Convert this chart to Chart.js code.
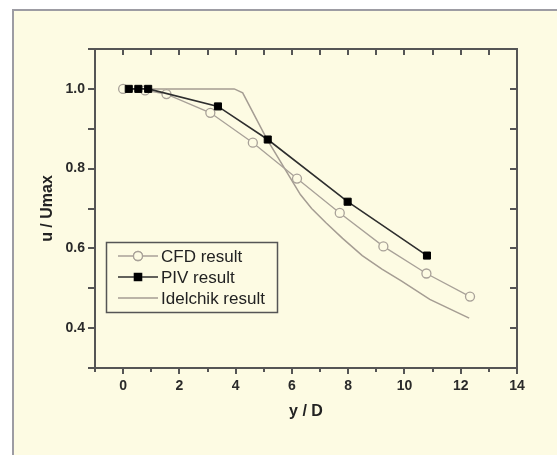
<!DOCTYPE html>
<html>
<head>
<meta charset="utf-8">
<script src="https://cdn.jsdelivr.net/npm/chart.js@4.4.0/dist/chart.umd.min.js"></script>
<style>
    html, body { margin: 0; padding: 0; background: #ffffff; }
    #wrap { width: 557px; height: 455px; }
</style>
</head>
<body>
<div id="wrap"><canvas id="lineChart" width="557" height="455"></canvas></div>
<script>
// data
const seriesNames = ['CFD result', 'PIV result', 'Idelchik result'];

const cfdX = [0, 0.78, 1.54, 3.1, 4.61, 6.18, 7.7, 9.25, 10.78, 12.33];
const cfdY = [1.0, 0.996, 0.987, 0.94, 0.865, 0.775, 0.689, 0.605, 0.537, 0.479];

const pivX = [0.2, 0.54, 0.89, 3.37, 5.14, 7.98, 10.8];
const pivY = [1.0, 1.0, 1.0, 0.956, 0.873, 0.717, 0.582];

const idelX = [0, 3.95, 4.25, 5.1, 6.0, 6.3, 6.7, 7.2, 7.8, 8.5, 9.2, 9.9, 10.9, 12.3];
const idelY = [1.0, 1.0, 0.99, 0.875, 0.77, 0.735, 0.7, 0.665, 0.625, 0.582, 0.548, 0.518, 0.472, 0.425];

const xTicks = [0, 2, 4, 6, 8, 10, 12, 14];
const yTicks = [0.4, 0.6, 0.8, 1.0];

const xMin = -1, xMax = 14, yMin = 0.3, yMax = 1.1;

const bgCream = '#fdfbe3';
const axisColor = '#555555';
const cfdColor = '#a8a198';
const idelColor = '#a59d93';
const pivColor = '#2e2e2e';
const fontFamily = "'Liberation Sans', Arial, sans-serif";

function toPoints(xs, ys) {
    return xs.map((x, i) => ({ x: x, y: ys[i] }));
}

// cream panel with grey frame behind everything
const panelPlugin = {
    id: 'panel',
    beforeDraw(chart) {
        const ctx = chart.ctx;
        ctx.save();
        ctx.fillStyle = '#ffffff';
        ctx.fillRect(0, 0, chart.width, chart.height);
        ctx.fillStyle = bgCream;
        ctx.fillRect(12, 9, chart.width, chart.height);
        ctx.strokeStyle = '#9d9ca3';
        ctx.lineWidth = 2;
        ctx.beginPath();
        ctx.moveTo(13, chart.height);
        ctx.lineTo(13, 10);
        ctx.lineTo(chart.width, 10);
        ctx.stroke();
        ctx.restore();
    }
};

// box frame with ticks on all four sides
const framePlugin = {
    id: 'frame',
    afterDraw(chart) {
        const ctx = chart.ctx;
        const a = chart.chartArea;
        const xs = chart.scales.x, ys = chart.scales.y;
        ctx.save();
        ctx.strokeStyle = axisColor;
        ctx.lineWidth = 2;
        ctx.strokeRect(a.left, a.top, a.right - a.left, a.bottom - a.top);
        ctx.beginPath();
        for (let v = xMin; v <= xMax; v++) {
            const px = Math.round(xs.getPixelForValue(v));
            const major = v % 2 === 0;
            ctx.moveTo(px, a.bottom - 1);
            ctx.lineTo(px, a.bottom + (major ? 6 : 4));
            ctx.moveTo(px, a.top);
            ctx.lineTo(px, a.top + 6);
        }
        for (let k = 3; k <= 11; k++) {
            const py = Math.round(ys.getPixelForValue(k / 10));
            ctx.moveTo(a.left + 1, py);
            ctx.lineTo(a.left - 7, py);
            ctx.moveTo(a.right, py);
            ctx.lineTo(a.right - 7, py);
        }
        ctx.stroke();
        ctx.restore();
    }
};

// boxed legend in the lower left of the plot
const legendPlugin = {
    id: 'boxLegend',
    afterDraw(chart) {
        const ctx = chart.ctx;
        const bx = 106.5, by = 242.5, bw = 171, bh = 70;
        const rows = [256, 277, 298];
        ctx.save();
        ctx.fillStyle = bgCream;
        ctx.fillRect(bx, by, bw, bh);
        ctx.strokeStyle = axisColor;
        ctx.lineWidth = 1.5;
        ctx.strokeRect(bx, by, bw, bh);
        seriesNames.forEach((name, i) => {
            const ds = chart.data.datasets.find(d => d.label === name);
            const y = rows[i];
            ctx.strokeStyle = ds.borderColor;
            ctx.lineWidth = ds.borderWidth;
            ctx.beginPath();
            ctx.moveTo(118, y);
            ctx.lineTo(158, y);
            ctx.stroke();
            if (ds.pointRadius > 0) {
                Chart.helpers.drawPoint(ctx, {
                    pointStyle: ds.pointStyle,
                    radius: ds.pointRadius,
                    borderWidth: ds.pointBorderWidth,
                    rotation: 0
                }, 138, y);
                ctx.fillStyle = ds.pointBackgroundColor;
                ctx.strokeStyle = ds.pointBorderColor;
                ctx.lineWidth = ds.pointBorderWidth;
                ctx.fill();
                ctx.stroke();
            }
            ctx.fillStyle = '#222222';
            ctx.font = '17px ' + fontFamily;
            ctx.textBaseline = 'middle';
            ctx.textAlign = 'left';
            ctx.fillText(name, 161, y + 1);
        });
        ctx.restore();
    }
};

document.addEventListener('DOMContentLoaded', function() {
    const ctx = document.getElementById('lineChart').getContext('2d');

    new Chart(ctx, {
        type: 'line',
        data: {
            datasets: [
                {
                    label: 'CFD result',
                    data: toPoints(cfdX, cfdY),
                    borderColor: cfdColor,
                    borderWidth: 1.3,
                    pointStyle: 'circle',
                    pointRadius: 4.5,
                    pointBorderWidth: 1.3,
                    pointBackgroundColor: bgCream,
                    pointBorderColor: cfdColor,
                    tension: 0,
                    order: 1
                },
                {
                    label: 'PIV result',
                    data: toPoints(pivX, pivY),
                    borderColor: pivColor,
                    borderWidth: 1.6,
                    pointStyle: 'rect',
                    pointRadius: 5,
                    pointBorderWidth: 1,
                    pointBackgroundColor: '#000000',
                    pointBorderColor: '#000000',
                    tension: 0,
                    order: 0
                },
                {
                    label: 'Idelchik result',
                    data: toPoints(idelX, idelY),
                    borderColor: idelColor,
                    borderWidth: 1.5,
                    pointRadius: 0,
                    pointBorderWidth: 0,
                    tension: 0,
                    order: 2
                }
            ]
        },
        options: {
            responsive: false,
            animation: false,
            events: [],
            layout: {
                padding: { left: 0, top: 49, right: 40, bottom: 0 }
            },
            plugins: {
                legend: { display: false },
                tooltip: { enabled: false }
            },
            scales: {
                x: {
                    type: 'linear',
                    min: xMin,
                    max: xMax,
                    afterBuildTicks: scale => { scale.ticks = xTicks.map(v => ({ value: v })); },
                    afterFit: scale => { scale.height = 87; },
                    grid: { display: false, drawTicks: false },
                    border: { display: false },
                    ticks: {
                        padding: 10,
                        color: '#2a2a2a',
                        font: { family: fontFamily, size: 14, weight: 'bold' }
                    },
                    title: {
                        display: true,
                        text: 'y / D',
                        color: '#222222',
                        padding: { top: 0, bottom: 34 },
                        font: { family: fontFamily, size: 16, weight: 'bold' }
                    }
                },
                y: {
                    type: 'linear',
                    min: yMin,
                    max: yMax,
                    afterBuildTicks: scale => { scale.ticks = yTicks.map(v => ({ value: v })); },
                    afterFit: scale => { scale.width = 95; },
                    grid: { display: false, drawTicks: false },
                    border: { display: false },
                    ticks: {
                        padding: 10,
                        color: '#2a2a2a',
                        font: { family: fontFamily, size: 14, weight: 'bold' },
                        callback: v => Number(v).toFixed(1)
                    },
                    title: {
                        display: true,
                        text: 'u / Umax',
                        color: '#222222',
                        padding: { top: 38, bottom: 0 },
                        font: { family: fontFamily, size: 16, weight: 'bold' }
                    }
                }
            }
        },
        plugins: [panelPlugin, framePlugin, legendPlugin]
    });
});
</script>
</body>
</html>
